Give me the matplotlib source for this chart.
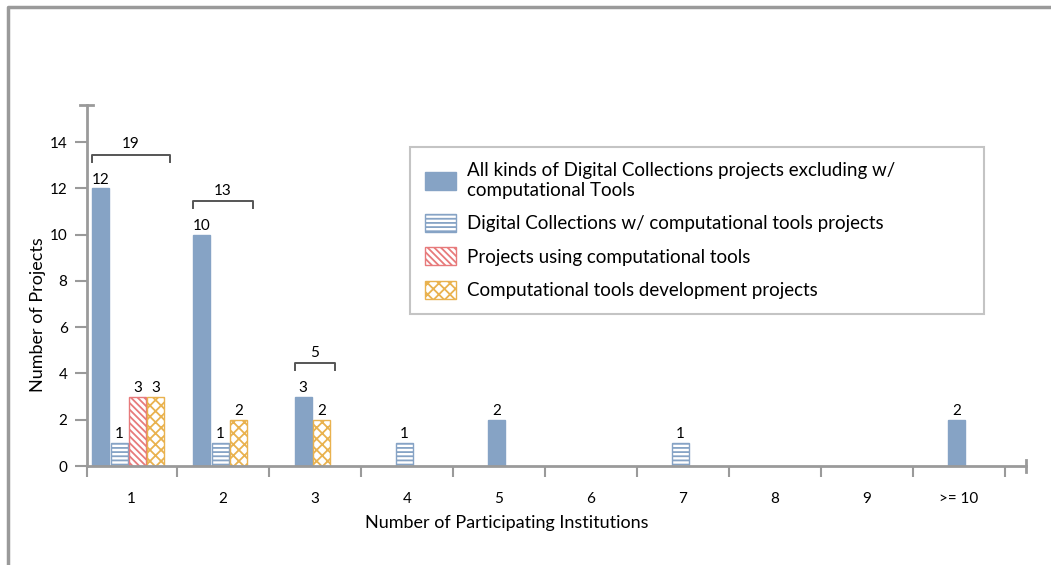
import matplotlib.pyplot as plt
from matplotlib.patches import Patch
from matplotlib.lines import Line2D

# data
categories = ['1', '2', '3', '4', '5', '6', '7', '8', '9', '>= 10']
all_kinds = [12, 10, 3, 0, 2, 0, 0, 0, 0, 2]
dc_tools = [1, 1, 0, 1, 0, 0, 1, 0, 0, 0]
using_tools = [3, 0, 0, 0, 0, 0, 0, 0, 0, 0]
tool_dev = [3, 2, 2, 0, 0, 0, 0, 0, 0, 0]
series_labels = [
    "All kinds of Digital Collections projects excluding w/\ncomputational Tools",
    "Digital Collections w/ computational tools projects",
    "Projects using computational tools",
    "Computational tools development projects",
]

plt.rcParams['font.family'] = ['Lato', 'DejaVu Sans']
plt.rcParams['hatch.linewidth'] = 1.3

blue = '#86a3c5'
red = '#e77a7b'
orange = '#e9b24f'
axis_col = '#9a9a9a'
styles = [
    dict(facecolor=blue, edgecolor=blue, hatch=None),
    dict(facecolor='white', edgecolor=blue, hatch='----'),
    dict(facecolor='white', edgecolor=red, hatch='\\\\\\\\\\'),
    dict(facecolor='white', edgecolor=orange, hatch='xxx'),
]
series = [all_kinds, dc_tools, using_tools, tool_dev]

W, H = 1051, 565
fig = plt.figure(figsize=(W / 100, H / 100), dpi=100)
ax = fig.add_axes([87 / W, 99 / H, (1026 - 87) / W, (466 - 105) / H])

slot = 0.2
bw = 0.185
for i in range(len(categories)):
    vals = [(k, s[i]) for k, s in enumerate(series) if s[i] > 0]
    n = len(vals)
    xs = []
    for j, (k, v) in enumerate(vals):
        x = i + (j - (n - 1) / 2) * slot - 0.03
        xs.append(x)
        ax.bar(x, v, width=bw, linewidth=1, **styles[k])
        ax.annotate(str(v), (x, v), xytext=(0, 1), textcoords='offset points',
                    ha='center', va='bottom', fontsize=11)
    if n > 1:
        top = max(v for _, v in vals)
        total = sum(v for _, v in vals)
        x0 = xs[0] - bw / 2
        x1 = xs[-1] + bw / 2 + 0.06
        yb = top + 1.45
        ax.plot([x0, x0, x1, x1], [yb - 0.3, yb, yb, yb - 0.3], color='#555555',
                lw=1.4, clip_on=False)
        ax.text((x0 + x1) / 2, yb + 0.15, str(total), ha='center', va='bottom',
                fontsize=11)

ax.set_xlim(-0.478, 9.728)
ax.set_ylim(0, 15.6)

for side in ['top', 'right']:
    ax.spines[side].set_visible(False)
for side in ['left', 'bottom']:
    ax.spines[side].set_color(axis_col)
    ax.spines[side].set_linewidth(2)

ax.set_yticks(range(0, 15, 2))
ax.tick_params(axis='y', length=9, width=1.5, color=axis_col, labelsize=11, pad=5)
ax.set_xticks([-0.478] + [k + 0.5 for k in range(10)])
ax.set_xticklabels([])
ax.tick_params(axis='x', length=8, width=1.5, color=axis_col)
ax.set_xticks(range(len(categories)), minor=True)
ax.set_xticklabels(categories, minor=True)
ax.tick_params(axis='x', which='minor', length=0, labelsize=11, pad=19)

# end caps on axes
ax.plot([-0.478 - 0.08, -0.478 + 0.065], [15.6, 15.6], color=axis_col, lw=2, clip_on=False)
ax.plot([9.728, 9.728], [-0.28, 0.28], color=axis_col, lw=2, clip_on=False)

ax.set_ylabel('Number of Projects', fontsize=13)
ax.yaxis.set_label_coords(46 / W, 1 - 315 / H, transform=fig.transFigure)
fig.text(507 / W, 1 - 523 / H, 'Number of Participating Institutions', ha='center',
         va='center', fontsize=13)

handles = [Patch(**st) for st in styles]
leg = ax.legend(handles, series_labels, loc='upper left',
                bbox_to_anchor=(410 / W, 1 - 313 / H, 574 / W, 166 / H),
                bbox_transform=fig.transFigure, mode='expand', borderaxespad=0,
                fontsize=13.5, handlelength=1.65, handleheight=1.1, handletextpad=0.6,
                labelspacing=0.8, borderpad=0.8, fancybox=False, framealpha=1)
leg.get_frame().set_edgecolor('#c4c4c4')
leg.get_frame().set_linewidth(1.5)

# outer frame
fig.add_artist(Line2D([8 / W, 8 / W, 1], [0, 1 - 7 / H, 1 - 7 / H],
                      transform=fig.transFigure, color=axis_col, lw=2.5))

fig.savefig('out.png', dpi=100)
